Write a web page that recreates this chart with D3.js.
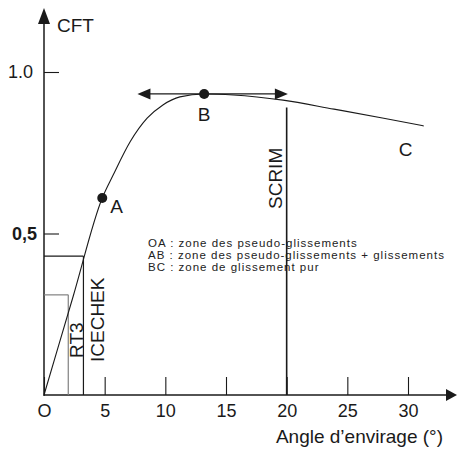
<!DOCTYPE html>
<html><head><meta charset="utf-8">
<script src="https://cdn.jsdelivr.net/npm/d3@7/dist/d3.min.js"></script>
<style>body{margin:0;background:#fff}svg{display:block}text{font-family:"Liberation Sans",Arial,sans-serif;fill:#1a1a1a}</style>
</head><body><svg id="c" width="458" height="452"></svg>
<script>
const xTicks=[0,5,10,15,20,25,30];
const xTickLabels=["O","5","10","15","20","25","30"];
const yTicks=[0.5,1.0];
const yTickLabels=["0,5","1.0"];
const curveAngle=[0,2.4,4.8,5.7,7.1,8.5,9.8,11.2,13.2,15.6,19.7,23.9,28.0,31.3];
const curveCFT=[0,0.305,0.61,0.681,0.784,0.857,0.898,0.923,0.932,0.929,0.913,0.885,0.857,0.833];
const pointNames=["A","B"];
const pointAngle=[4.8,13.2];
const pointCFT=[0.61,0.932];
const endName="C";
const endLabelAngle=29.8, endLabelCFT=0.74;
const instruments=["RT3","ICECHEK","SCRIM"];
const instrAngle=[2.0,3.25,20];
const instrCFT=[0.31,0.43,0.89];
const arrowRange=[7.7,20.1];
const zones=["OA : zone des pseudo-glissements","AB : zone des pseudo-glissements + glissements","BC : zone de glissement pur"];
const xTitle="Angle d’envirage (°)";
const yTitle="CFT";

const svg=d3.select("#c");
const x=d3.scaleLinear().domain([0,30]).range([44,408]);
const y=d3.scaleLinear().domain([0,1]).range([395,72]);
const ink="#1a1a1a";

function head(tx,ty,dir,len,hw){
  // dir: unit vector pointing toward tip
  const [dx,dy]=dir, bx=tx-dx*len, by=ty-dy*len, px=-dy, py=dx;
  return `M${tx},${ty}L${bx+px*hw},${by+py*hw}L${bx-px*hw},${by-py*hw}Z`;
}

// zone text
const zt=svg.append("g");
zones.forEach((s,i)=>{
  zt.append("text").attr("x",148).attr("y",247+i*12).attr("font-size",11.5)
    .attr("letter-spacing",1).style("fill","#222").text(s);
});

// axes ticks
const gx=svg.append("g").attr("transform",`translate(0,${y(0)})`)
  .call(d3.axisBottom(x).tickValues(xTicks).tickFormat((d,i)=>xTickLabels[i])
    .tickSizeInner(-18).tickSizeOuter(0).tickPadding(9));
gx.select(".domain").remove();
gx.selectAll("line").attr("stroke",ink).attr("stroke-width",1.1);
gx.selectAll("text").attr("font-size",18).attr("font-family",null).style("fill",ink);

const gy=svg.append("g").attr("transform",`translate(${x(0)},0)`)
  .call(d3.axisLeft(y).tickValues(yTicks).tickFormat((d,i)=>yTickLabels[i])
    .tickSizeInner(-15).tickSizeOuter(0).tickPadding(10));
gy.select(".domain").remove();
gy.selectAll("line").attr("stroke",ink).attr("stroke-width",1.1);
gy.selectAll("text").attr("font-size",18).attr("font-family",null).style("fill",ink)
  .attr("font-weight",(d)=>d===0.5?"bold":null).attr("x",d=>d===0.5?-7:-11);

// axis lines with arrows
svg.append("line").attr("x1",x(0)).attr("x2",447).attr("y1",y(0)).attr("y2",y(0))
  .attr("stroke",ink).attr("stroke-width",1.5);
svg.append("path").attr("d",head(457,y(0),[1,0],11,6)).attr("fill",ink);
svg.append("line").attr("x1",x(0)).attr("x2",x(0)).attr("y1",y(0)+1).attr("y2",22)
  .attr("stroke",ink).attr("stroke-width",1.5);
svg.append("path").attr("d",head(x(0),8,[0,-1],16,6)).attr("fill",ink);

// titles
svg.append("text").attr("x",57).attr("y",32).attr("font-size",19).text(yTitle);
svg.append("text").attr("x",443).attr("y",443).attr("font-size",19).attr("text-anchor","end").text(xTitle);

// instrument lines
const instColor=["#808080",ink,ink];
instruments.forEach((n,i)=>{
  const xx=x(instrAngle[i]), yy=y(instrCFT[i]);
  svg.append("line").attr("x1",xx).attr("x2",xx).attr("y1",yy).attr("y2",y(0))
    .attr("stroke",instColor[i]).attr("stroke-width",i===2?1.6:1.2);
  if(i<2) svg.append("line").attr("x1",x(0)).attr("x2",xx).attr("y1",yy).attr("y2",yy)
    .attr("stroke",instColor[i]).attr("stroke-width",1.2);
});
// instrument labels (rotated)
const lab=[[83,358],[103.5,362],[282,209]];
instruments.forEach((n,i)=>{
  svg.append("text").attr("transform",`translate(${lab[i][0]},${lab[i][1]}) rotate(-90)`)
    .attr("font-size",19).text(n);
});

// curve
const pts=curveAngle.map((a,i)=>[a,curveCFT[i]]);
svg.append("path").attr("d",d3.line().x(d=>x(d[0])).y(d=>y(d[1])).curve(d3.curveMonotoneX)(pts))
  .attr("fill","none").attr("stroke",ink).attr("stroke-width",1.1);

// double arrow
const ay=y(pointCFT[1]);
svg.append("line").attr("x1",x(arrowRange[0])+8).attr("x2",x(arrowRange[1])-8).attr("y1",ay).attr("y2",ay)
  .attr("stroke",ink).attr("stroke-width",1.3);
svg.append("path").attr("d",head(x(arrowRange[0]),ay,[-1,0],13,5.5)).attr("fill",ink);
svg.append("path").attr("d",head(x(arrowRange[1]),ay,[1,0],13,5.5)).attr("fill",ink);

// points
pointNames.forEach((n,i)=>{
  svg.append("circle").attr("cx",x(pointAngle[i])).attr("cy",y(pointCFT[i])).attr("r",5).attr("fill",ink);
});
svg.append("text").attr("x",x(pointAngle[0])+8).attr("y",y(pointCFT[0])+15).attr("font-size",19).text(pointNames[0]);
svg.append("text").attr("x",x(pointAngle[1])).attr("y",y(pointCFT[1])+27).attr("font-size",19).attr("text-anchor","middle").text(pointNames[1]);
svg.append("text").attr("x",x(endLabelAngle)).attr("y",y(endLabelCFT)).attr("font-size",19).attr("text-anchor","middle").text(endName);
</script></body></html>
